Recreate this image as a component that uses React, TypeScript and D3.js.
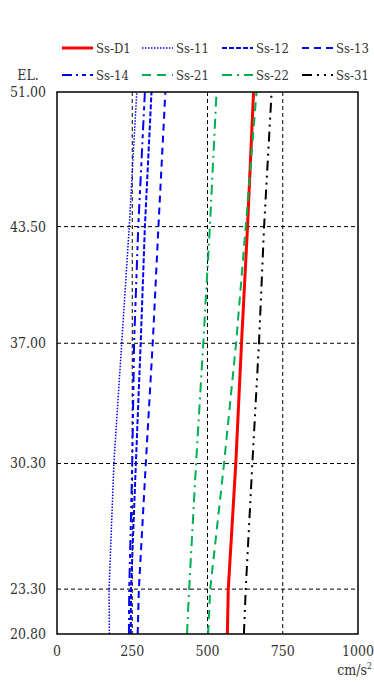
import React from "react";
import * as d3 from "d3";

const elevations = [20.8, 23.3, 30.3, 37.0, 43.5, 51.0];
const yTicks = [51.0, 43.5, 37.0, 30.3, 23.3, 20.8];
const xTicks = [0, 250, 500, 750, 1000];

const seriesNames = ["Ss-D1", "Ss-11", "Ss-12", "Ss-13", "Ss-14", "Ss-21", "Ss-22", "Ss-31"];
const ssD1 = [566, 569, 594, 613, 633, 653];
const ss11 = [174, 173, 189, 215, 240, 265];
const ss12 = [245, 246, 262, 278, 292, 314];
const ss13 = [268, 272, 295, 318, 337, 360];
const ss14 = [239, 240, 250, 256, 270, 292];
const ss21 = [502, 509, 555, 595, 627, 663];
const ss22 = [432, 439, 462, 486, 508, 530];
const ss31 = [621, 627, 649, 671, 688, 713];
const seriesValues = [ssD1, ss11, ss12, ss13, ss14, ss21, ss22, ss31];

const styles = [
  { color: "#ff0000", width: 3, dash: "" },
  { color: "#0000ff", width: 1.5, dash: "1.5 1.5" },
  { color: "#0000ff", width: 2, dash: "5 2" },
  { color: "#0000ff", width: 2, dash: "7 5" },
  { color: "#0000ff", width: 2, dash: "10 4 2 4 4 4" },
  { color: "#00b050", width: 2, dash: "9 6" },
  { color: "#00b050", width: 2, dash: "10 5 2 5" },
  { color: "#000000", width: 2, dash: "10 5 2 5 2 5" },
];

const FONT = "'DejaVu Serif Condensed', 'DejaVu Serif', serif";

export default function App() {
  const left = 57, right = 358, top = 92, bottom = 634;
  const x = d3.scaleLinear().domain([0, 1000]).range([left, right]);
  const y = d3.scaleLinear().domain([20.8, 51.0]).range([bottom, top]);
  const line = d3
    .line<[number, number]>()
    .x((d) => x(d[0]))
    .y((d) => y(d[1]));

  const legendCols = [62, 142, 222, 302];
  const legendRows = [48, 75];
  const txt = { fontFamily: FONT, fill: "#333" } as React.CSSProperties;

  return (
    <svg
      width={374}
      height={682}
      style={{ position: "absolute", left: 0, top: 0, background: "#fff" }}
    >
      <rect x={0} y={0} width={374} height={682} fill="#fff" />
      {xTicks.slice(1, -1).map((t) => (
        <line key={"gx" + t} x1={x(t)} x2={x(t)} y1={top} y2={bottom} stroke="#000" strokeWidth={1} strokeDasharray="4 3" />
      ))}
      {yTicks.slice(1, -1).map((t) => (
        <line key={"gy" + t} x1={left} x2={right} y1={y(t)} y2={y(t)} stroke="#000" strokeWidth={1} strokeDasharray="4 3" />
      ))}
      {seriesValues.map((vals, i) => (
        <path
          key={seriesNames[i]}
          d={line(vals.map((v, j) => [v, elevations[j]] as [number, number])) || ""}
          fill="none"
          stroke={styles[i].color}
          strokeWidth={styles[i].width}
          strokeDasharray={styles[i].dash || undefined}
        />
      ))}
      <rect x={left} y={top} width={right - left} height={bottom - top} fill="none" stroke="#000" strokeWidth={1.5} />
      {yTicks.map((t) => (
        <text key={"yt" + t} x={46} y={y(t)} dy="0.35em" textAnchor="end" fontSize={14} style={txt}>
          {t.toFixed(2)}
        </text>
      ))}
      <text x={28} y={75} dy="0.35em" textAnchor="middle" fontSize={14} style={txt}>EL.</text>
      {xTicks.map((t) => (
        <text key={"xt" + t} x={x(t)} y={651} dy="0.35em" textAnchor="middle" fontSize={14} style={txt}>
          {t}
        </text>
      ))}
      <text x={372} y={670} dy="0.35em" textAnchor="end" fontSize={14} style={txt}>
        cm/s<tspan dy="-6" fontSize={9}>2</tspan>
      </text>
      {seriesNames.map((name, i) => {
        const col = legendCols[i % 4];
        const row = legendRows[Math.floor(i / 4)];
        const s = styles[i];
        return (
          <g key={"lg" + name}>
            <line x1={col} x2={col + 31} y1={row} y2={row} stroke={s.color} strokeWidth={s.width} strokeDasharray={s.dash || undefined} />
            <text x={col + 34} y={row} dy="0.35em" fontSize={13} style={txt}>
              {name}
            </text>
          </g>
        );
      })}
    </svg>
  );
}
